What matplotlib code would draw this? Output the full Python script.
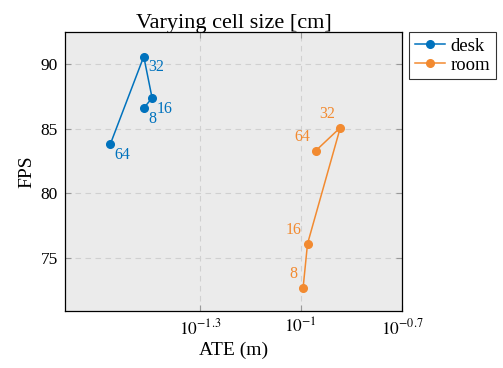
import numpy as np
import matplotlib.pyplot as plt

# cell sizes [cm]
cell_sizes = ["8", "16", "32", "64"]

# desk sequence
desk_ate = [0.0342, 0.0362, 0.0342, 0.0272]
desk_fps = [86.6, 87.4, 90.6, 83.8]

# room sequence
room_ate = [0.1016, 0.1047, 0.131, 0.1107]
room_fps = [72.7, 76.1, 85.1, 83.3]

blue = "#0072bd"
orange = "#f28a30"

plt.rcParams["font.family"] = ["Liberation Serif", "DejaVu Serif"]
plt.rcParams["mathtext.fontset"] = "stix"

fig = plt.figure(figsize=(5.03, 3.68), dpi=100)
ax = fig.add_axes([0.129, 0.155, 0.670, 0.758])
ax.set_facecolor("#ebebeb")

ax.plot(desk_ate, desk_fps, "-o", color=blue, lw=1.1, ms=5.5, label="desk", zorder=3)
ax.plot(room_ate, room_fps, "-o", color=orange, lw=1.1, ms=5.5, label="room", zorder=3)

# point labels
for x, y, s in zip(desk_ate, desk_fps, cell_sizes):
    ax.annotate(s, (x, y), xytext=(3, -2), textcoords="offset points",
                ha="left", va="top", color=blue, fontsize=11.5)
for x, y, s in zip(room_ate, room_fps, cell_sizes):
    ax.annotate(s, (x, y), xytext=(-4, 4), textcoords="offset points",
                ha="right", va="bottom", color=orange, fontsize=11.5)

ax.set_xscale("log")
ax.set_xlim(10 ** -1.7, 10 ** -0.7)
ax.set_ylim(70.9, 92.5)
xt = [10 ** -1.3, 10 ** -1, 10 ** -0.7]
ax.set_xticks(xt)
ax.set_xticklabels([r"$10^{-1.3}$", r"$10^{-1}$", r"$10^{-0.7}$"])
ax.xaxis.set_minor_locator(plt.NullLocator())
ax.set_yticks([75, 80, 85, 90])

ax.grid(True, color="#d0d0d0", ls=(0, (5, 4)), lw=0.8)
ax.set_axisbelow(True)
ax.tick_params(direction="in", length=4, color="#999999", labelsize=12.5,
               top=True, right=True, pad=5)
for sp in ax.spines.values():
    sp.set_linewidth(0.9)

ax.set_title("Varying cell size [cm]", fontsize=16, pad=3)
ax.set_xlabel("ATE (m)", fontsize=14, labelpad=3)
ax.set_ylabel("FPS", fontsize=14, labelpad=4)

leg = ax.legend(loc="upper left", bbox_to_anchor=(1.022, 1.0), fontsize=13.5,
                frameon=True, fancybox=False, edgecolor="black",
                handlelength=1.6, handletextpad=0.3, borderpad=0.3,
                labelspacing=0.1, borderaxespad=0)
leg.get_frame().set_linewidth(0.8)

fig.savefig("out.png", dpi=100)
